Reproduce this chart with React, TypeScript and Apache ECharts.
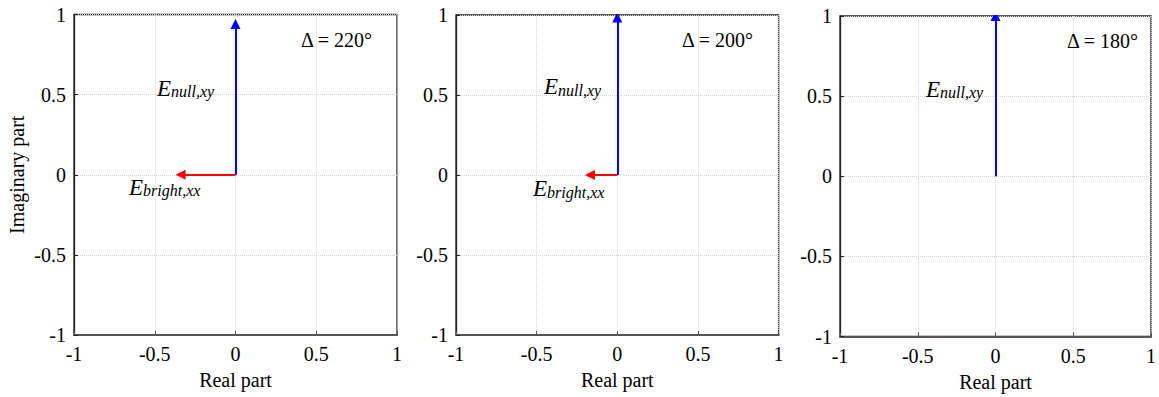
import React, { useEffect, useRef } from "react";
import * as echarts from "echarts";

// Phase difference of each panel (degrees)
const deltas = ["220", "200", "180"];
// Imaginary part of E_null,xy (vector along +imaginary axis)
const nullImag = [0.94, 0.985, 1.0];
// Real part of E_bright,xx (vector along real axis)
const brightReal = [-0.34, -0.17, 0];
// Axis ticks
const axisMin = -1;
const axisMax = 1;
const tickStep = 0.5;

const FONT = "Liberation Serif";

const grids = [
  { left: 74, top: 14.5, width: 323, height: 320.5 },
  { left: 456, top: 15, width: 322.6, height: 320 },
  { left: 840, top: 16, width: 320, height: 320.5 },
];

// annotation placement (pixels)
const nullLabelXY = [
  [157, 76.5],
  [544, 75],
  [926, 77.5],
];
const brightLabelXY = [
  [129, 175.5],
  [533, 177],
  null,
];
const deltaLabelXY = [
  [301, 40],
  [682, 40],
  [1067, 41],
];

const serif20 = { fontFamily: FONT, fontSize: 20, color: "#000", fill: "#000" };

function richE(sub: string, x: number, y: number) {
  return {
    type: "text",
    x,
    y,
    z: 100,
    style: {
      text: `{e|E}{s|${sub}}`,
      align: "left",
      verticalAlign: "top",
      fill: "#000",
      rich: {
        e: {
          fontFamily: FONT,
          fontStyle: "italic",
          fontSize: 23,
          lineHeight: 23,
          verticalAlign: "top",
          fill: "#000",
        },
        s: {
          fontFamily: FONT,
          fontStyle: "italic",
          fontSize: 16,
          lineHeight: 16,
          padding: [12, 0, 0, 0],
          verticalAlign: "bottom",
          fill: "#000",
        },
      },
    },
  };
}

export default function App() {
  const ref = useRef<HTMLDivElement>(null);
  useEffect(() => {
    document.body.style.margin = "0";
    if (!ref.current) return;
    const chart = echarts.init(ref.current, undefined, { renderer: "svg" });

    const xAxis = grids.map((_, i) => ({
      type: "value",
      gridIndex: i,
      min: axisMin,
      max: axisMax,
      interval: tickStep,
      name: "{a|Real part}",
      nameLocation: "middle",
      nameGap: 35,
      nameTextStyle: { rich: { a: serif20 } },
      axisLine: { show: true, onZero: false, lineStyle: { color: "#555", width: 2 } },
      axisTick: { show: true, inside: true, length: 4, lineStyle: { color: "#555" } },
      axisLabel: {
        margin: 9,
        formatter: (v: number) => `{a|${v}}`,
        rich: { a: serif20 },
      },
      splitLine: { show: true, lineStyle: { color: "#d4d4d4", type: "dotted", width: 1 } },
    }));

    const yAxis = grids.map((_, i) => ({
      type: "value",
      gridIndex: i,
      min: axisMin,
      max: axisMax,
      interval: tickStep,
      name: i === 0 ? "{a|Imaginary part}" : "",
      nameLocation: "middle",
      nameRotate: 90,
      nameGap: 47,
      nameTextStyle: { rich: { a: serif20 } },
      axisLine: { show: true, onZero: false, lineStyle: { color: "#222", width: 1.3 } },
      axisTick: { show: true, inside: true, length: 4, lineStyle: { color: "#222" } },
      axisLabel: {
        margin: 8,
        formatter: (v: number) => `{a|${v}}`,
        rich: { a: serif20 },
      },
      splitLine: { show: true, lineStyle: { color: "#d4d4d4", type: "dotted", width: 1 } },
    }));

    const series: any[] = [];
    grids.forEach((_, i) => {
      series.push({
        type: "lines",
        coordinateSystem: "cartesian2d",
        xAxisIndex: i,
        yAxisIndex: i,
        symbol: ["none", "triangle"],
        symbolSize: 10,
        z: 10,
        lineStyle: { color: "#0000ff", width: 2, opacity: 1, curveness: 0 },
        itemStyle: { color: "#0000ff" },
        data: [{ coords: [[0, 0], [0, nullImag[i]]] }],
      });
      if (brightReal[i] !== 0) {
        series.push({
          type: "lines",
          coordinateSystem: "cartesian2d",
          xAxisIndex: i,
          yAxisIndex: i,
          symbol: ["none", "triangle"],
          symbolSize: 10,
          z: 10,
          lineStyle: { color: "#ff0000", width: 2, opacity: 1, curveness: 0 },
          itemStyle: { color: "#ff0000" },
          data: [{ coords: [[0, 0], [brightReal[i], 0]] }],
        });
      }
    });

    const graphic: any[] = [];
    grids.forEach((_, i) => {
      graphic.push(richE("null,xy", nullLabelXY[i][0], nullLabelXY[i][1]));
      const b = brightLabelXY[i];
      if (b && brightReal[i] !== 0) graphic.push(richE("bright,xx", b[0], b[1]));
      graphic.push({
        type: "text",
        x: deltaLabelXY[i][0],
        y: deltaLabelXY[i][1],
        z: 100,
        style: {
          text: `{a|Δ = ${deltas[i]}°}`,
          align: "left",
          verticalAlign: "middle",
          fill: "#000",
          rich: { a: { fontFamily: FONT, fontSize: 20, fill: "#000" } },
        },
      });
    });

    chart.setOption({
      animation: false,
      backgroundColor: "#fff",
      grid: grids.map((g) => ({
        ...g,
        show: true,
        borderColor: "#222",
        borderWidth: 1.3,
        backgroundColor: "transparent",
        containLabel: false,
      })),
      xAxis,
      yAxis,
      series,
      graphic,
    });
    return () => chart.dispose();
  }, []);
  return <div ref={ref} style={{ width: 1159, height: 397 }} />;
}
